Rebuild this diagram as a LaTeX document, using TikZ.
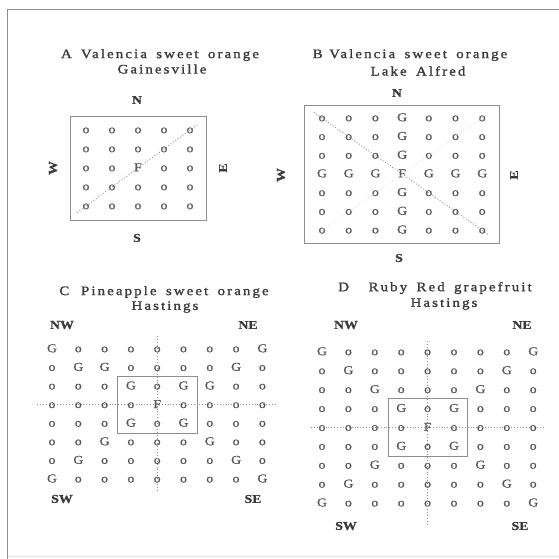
\documentclass[tikz,border=0pt]{standalone}
\usepackage{fontspec}
\setmainfont{Liberation Serif}
\newfontfamily\titlefont[FakeStretch=1.15,FakeBold=1.3,LetterSpace=16,WordSpace=1.6]{Liberation Serif}
\newfontfamily\gridfont[FakeStretch=1.15,FakeBold=1]{Liberation Serif}
\usetikzlibrary{positioning,calc}
\definecolor{Ink}{HTML}{3A3A3A}
\definecolor{Rule}{HTML}{8E8E8E}
\definecolor{Faint}{HTML}{E2E2E2}

\begin{document}
\begin{tikzpicture}[x=1pt,y=-1pt,
    title/.style={font=\titlefont\fontsize{13}{13}\selectfont,text=Ink,inner sep=0pt},
    compass/.style={font=\gridfont\bfseries\fontsize{12}{12}\selectfont,text=Ink,inner sep=0pt},
    tree/.style={font=\gridfont\fontsize{12}{12}\selectfont,text=Ink!85,inner sep=0pt,
      text height=1.4ex,text depth=0pt},
    plotbox/.style={draw=Rule,line width=0.8pt,inner sep=0pt},
    transect/.style={draw=Rule,dotted,line width=0.9pt}
  ]
  \useasboundingbox (0,0) rectangle (558,559);
  % outer frame
  \draw[Faint,line width=0.8pt] (7,556) -- (560,556);
  \draw[Rule,line width=0.9pt] (7,559) -- (7,9) -- (560,9);

  % A: Valencia, Gainesville
  \node[title] (titleA) at (160,55) {A\hspace{0.7em}Valencia sweet orange};
  \node[title] (siteA) at (162,69) {Gainesville};
  \foreach \row [count=\r from 0] in {{o,o,o,o,o},{o,o,o,o,o},{o,o,F,o,o},{o,o,o,o,o},{o,o,o,o,o}}
    \foreach \t [count=\c from 0] in \row
      \node[tree] (a-\r-\c) at ({86+26*\c},{130+19*\r}) {\t};
  \node[plotbox,minimum width=136pt,minimum height=104pt] (boxA) at (a-2-2) {};
  \draw[transect,shorten <=-11pt,shorten >=-9pt] (a-4-0.center) -- (a-0-4.center);
  \node[compass] (northA) at (137,100) {N};
  \node[compass] (southA) at (137,238) {S};
  \node[compass,rotate=90] (westA) at (53,168) {W};
  \node[compass,rotate=90] (eastA) at (223,168) {E};

  % B: Valencia, Lake Alfred
  \node[title] (titleB) at (410,55) {B\hspace{0.5em}Valencia sweet orange};
  \node[title] (siteB) at (418,71) {Lake Alfred};
  \foreach \row [count=\r from 0] in {{o,o,o,G,o,o,o},{o,o,o,G,o,o,o},{o,o,o,G,o,o,o},
      {G,G,G,F,G,G,G},{o,o,o,G,o,o,o},{o,o,o,G,o,o,o},{o,o,o,G,o,o,o}}
    \foreach \t [count=\c from 0] in \row
      \node[tree] (b-\r-\c) at ({322+26.7*\c},{118+18.7*\r}) {\t};
  \node[plotbox,minimum width=195pt,minimum height=138pt] (boxB) at (b-3-3) {};
  \draw[transect,draw=Faint,shorten <=-4pt,shorten >=-4pt] (b-6-0.center) -- (b-0-6.center);
  \draw[transect,shorten <=-10pt,shorten >=-8pt] (b-0-0.center) -- (b-6-6.center);
  \node[compass] (northB) at (397,93) {N};
  \node[compass] (southB) at (399,258) {S};
  \node[compass,rotate=90] (westB) at (281,175) {W};
  \node[compass,rotate=90] (eastB) at (514,175) {E};

  % C: Pineapple, Hastings
  \node[title] (titleC) at (164,292) {C\hspace{0.9em}Pineapple sweet orange};
  \node[title] (siteC) at (165,307) {Hastings};
  \foreach \row [count=\r from 0] in {{G,o,o,o,o,o,o,o,G},{o,G,G,o,o,o,o,G,o},
      {o,o,o,G,o,G,G,o,o},{o,o,o,o,F,o,o,o,o},{o,o,o,G,o,G,o,o,o},
      {o,o,G,o,o,o,G,o,o},{o,G,o,o,o,o,o,G,o},{G,o,o,o,o,o,o,o,G}}
    \foreach \t [count=\c from 0] in \row
      \node[tree] (c-\r-\c) at ({52+26.3*\c},{349+18.6*\r}) {\t};
  \node[plotbox,minimum width=80pt,minimum height=57pt] (boxC) at (c-3-4) {};
  \draw[transect,shorten <=-15pt,shorten >=-13pt] (c-3-0.center) -- (c-3-8.center);
  \draw[transect,shorten <=-13pt,shorten >=-12pt] (c-0-4.center) -- (c-7-4.center);
  \node[compass] (nwC) at (62,325) {NW};
  \node[compass] (neC) at (248,325) {NE};
  \node[compass] (swC) at (62,499) {SW};
  \node[compass] (seC) at (253,499) {SE};

  % D: Ruby Red, Hastings
  \node[title] (titleD) at (435,288) {D\hspace{1.5em}Ruby Red grapefruit};
  \node[title] (siteD) at (444,304) {Hastings};
  \foreach \row [count=\r from 0] in {{G,o,o,o,o,o,o,o,G},{o,G,o,o,o,o,o,G,o},
      {o,o,G,o,o,o,G,o,o},{o,o,o,G,o,G,o,o,o},{o,o,o,o,F,o,o,o,o},
      {o,o,o,G,o,G,o,o,o},{o,o,G,o,o,o,G,o,o},{o,G,o,o,o,o,o,G,o},
      {G,o,o,o,o,o,o,o,G}}
    \foreach \t [count=\c from 0] in \row
      \node[tree] (d-\r-\c) at ({322+26.4*\c},{352+18.9*\r}) {\t};
  \node[plotbox,minimum width=79pt,minimum height=58pt] (boxD) at (d-4-4) {};
  \draw[transect,shorten <=-11pt,shorten >=-11pt] (d-4-0.center) -- (d-4-8.center);
  \draw[transect,shorten <=-11pt,shorten >=-21pt] (d-0-4.center) -- (d-8-4.center);
  \node[compass] (nwD) at (346,325) {NW};
  \node[compass] (neD) at (522,325) {NE};
  \node[compass] (swD) at (346,526) {SW};
  \node[compass] (seD) at (520,526) {SE};
\end{tikzpicture}
\end{document}
